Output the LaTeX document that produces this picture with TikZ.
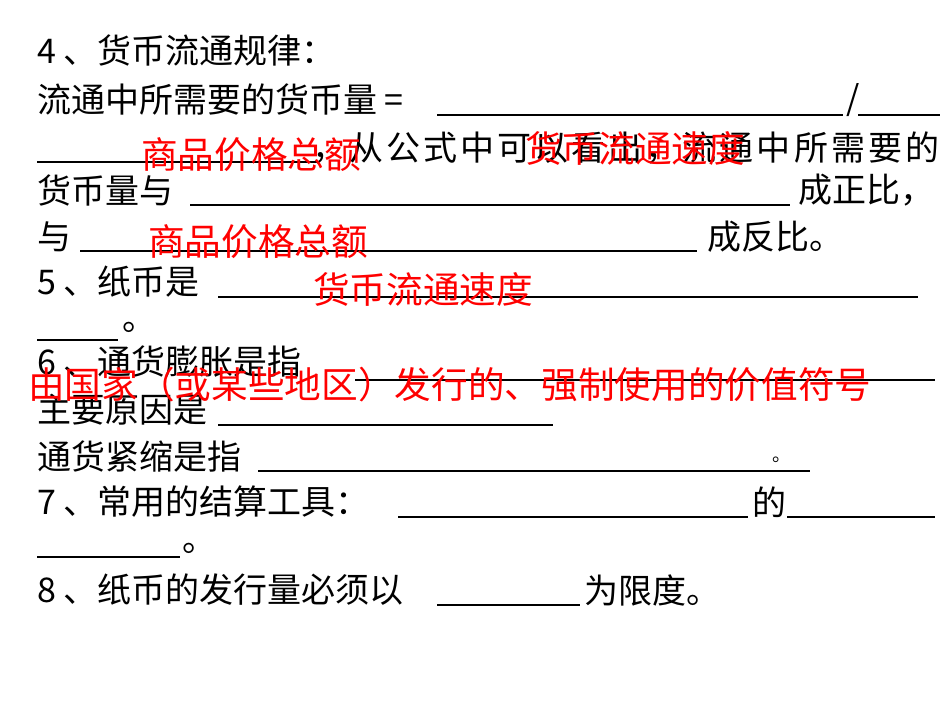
\documentclass[tikz,border=0pt]{standalone}
\usepackage{fontspec}
\setmainfont{Noto Sans CJK SC}
\begin{document}
\begin{tikzpicture}[x=0.75pt,y=-0.75pt,
  t/.style={anchor=west,inner sep=0pt,font=\fontsize{25.5}{28}\selectfont},
  r/.style={anchor=center,inner sep=0pt,text=red,font=\fontsize{27.5}{30}\selectfont},
  ul/.style={line width=1pt}]
\useasboundingbox (0,0) rectangle (950,713);
\node[t] (l1) at (37,50) {4 、货币流通规律：};
\node[t] (l2) at (37,100) {流通中所需要的货币量 =};
\draw[ul] (437,115) -- (843,115);
\node[t] (sl) at (846,100) {/};
\draw[ul] (858,115) -- (940,115);
\draw[ul] (37,162) -- (318,162);
\node[t] (l3) at (312,148) {\addfontfeatures{LetterSpace=9}，从公式中可以看出，流通中所需要的};
\node[t] (l4) at (37,190) {货币量与};
\draw[ul] (190,205) -- (790,205);
\node[t] (l4b) at (798,190) {成正比，};
\node[t] (l5) at (37,237) {与};
\draw[ul] (80,251) -- (697,251);
\node[t] (l5b) at (707,237) {成反比。};
\node[t] (l6) at (37,282) {5 、纸币是};
\draw[ul] (218,297) -- (918,297);
\draw[ul] (37,340) -- (118,340);
\node[t] (l7) at (122,327) {。};
\node[t] (l8) at (37,362) {6 、通货膨胀是指};
\draw[ul] (355,380) -- (935,380);
\node[t] (l9) at (37,410) {主要原因是};
\draw[ul] (218,425) -- (553,425);
\node[t] (l10) at (37,457) {通货紧缩是指};
\draw[ul] (258,471) -- (810,471);
\node[t] (l10b) at (772,460) {\fontsize{14}{16}\selectfont 。};
\node[t] (l11) at (37,502) {7 、常用的结算工具：};
\draw[ul] (398,517) -- (748,517);
\node[t] (l11b) at (752,502) {的};
\draw[ul] (787,517) -- (935,517);
\draw[ul] (37,557) -- (180,557);
\node[t] (l12) at (182,548) {。};
\node[t] (l13) at (37,590) {8 、纸币的发行量必须以};
\draw[ul] (437,605) -- (580,605);
\node[t] (l13b) at (584,590) {为限度。};
\node[r] (a1) at (251,155) {商品价格总额};
\node[r] (a2) at (635,148) {货币流通速度};
\node[r] (a3) at (258,242) {商品价格总额};
\node[r] (a4) at (423,289) {货币流通速度};
\node[r,anchor=west] (a5) at (28,385) {由国家（或某些地区）发行的、强制使用的价值符号};
\end{tikzpicture}
\end{document}
